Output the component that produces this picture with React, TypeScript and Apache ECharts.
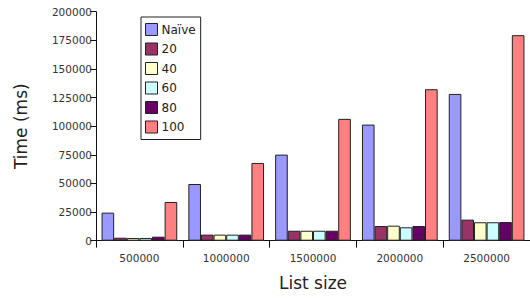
import React, { useEffect, useRef } from "react";
import * as echarts from "echarts";

const categories = ["500000", "1000000", "1500000", "2000000", "2500000"];
const seriesNames = ["Naïve", "20", "40", "60", "80", "100"];
const naive = [24500, 49500, 75200, 101400, 128200];
const s20 = [2600, 5300, 8700, 12800, 18400];
const s40 = [2400, 5300, 8700, 13100, 16100];
const s60 = [2400, 5300, 8700, 11700, 16100];
const s80 = [3500, 5300, 8700, 12800, 16300];
const s100 = [33800, 67900, 106400, 132300, 179500];
const seriesValues = [naive, s20, s40, s60, s80, s100];
const colors = ["#9999ff", "#993366", "#ffffcc", "#ccffff", "#660066", "#ff8080"];
const yTicks = [0, 25000, 50000, 75000, 100000, 125000, 150000, 175000, 200000];

export default function App() {
  const ref = useRef<HTMLDivElement>(null);
  useEffect(() => {
    if (!ref.current) return;
    const chart = echarts.init(ref.current, null, { renderer: "svg" });
    const font = "DejaVu Sans";
    chart.setOption({
      animation: false,
      textStyle: { fontFamily: font },
      legend: {
        orient: "vertical",
        left: 141,
        top: 17,
        padding: [6, 5, 6, 4],
        itemWidth: 12,
        itemHeight: 12,
        itemGap: 6.5,
        borderColor: "#222",
        borderWidth: 1,
        icon: "rect",
        itemStyle: { borderColor: "#222", borderWidth: 1 },
        textStyle: { fontFamily: font, fontSize: 12, lineHeight: 12, color: "#222", padding: [0, 0, 0, -1] },
        data: seriesNames,
      },
      grid: { left: 96, top: 11.7, width: 438, height: 229 },
      xAxis: {
        type: "category",
        data: categories,
        name: "List size",
        nameLocation: "middle",
        nameGap: 34,
        nameTextStyle: { fontFamily: font, fontSize: 17, color: "#222" },
        axisLine: { lineStyle: { color: "#111", width: 1 } },
        axisTick: { show: true, length: 7, alignWithLabel: false, lineStyle: { color: "#111" } },
        axisLabel: { fontFamily: font, fontSize: 10.5, color: "#333", margin: 12 },
      },
      yAxis: {
        type: "value",
        min: yTicks[0],
        max: yTicks[yTicks.length - 1],
        interval: yTicks[1] - yTicks[0],
        name: "Time (ms)",
        nameLocation: "middle",
        nameGap: 67,
        nameTextStyle: { fontFamily: font, fontSize: 17, color: "#222" },
        axisLine: { show: true, lineStyle: { color: "#111", width: 1 } },
        axisTick: { show: true, length: 6, lineStyle: { color: "#111" } },
        axisLabel: {
          fontFamily: font,
          fontSize: 10.5,
          color: "#333",
          margin: 4,
          formatter: (v: number) => String(v),
        },
        splitLine: { show: false },
      },
      series: seriesNames.map((name, i) => ({
        name,
        type: "bar",
        data: seriesValues[i],
        barGap: "0%",
        barCategoryGap: "12.8%",
        itemStyle: { color: colors[i], borderColor: "#222", borderWidth: 1 },
      })),
    });
    return () => chart.dispose();
  }, []);
  return (
    <div
      ref={ref}
      style={{ position: "absolute", left: 0, top: 0, width: 530, height: 299, background: "#fff" }}
    />
  );
}
